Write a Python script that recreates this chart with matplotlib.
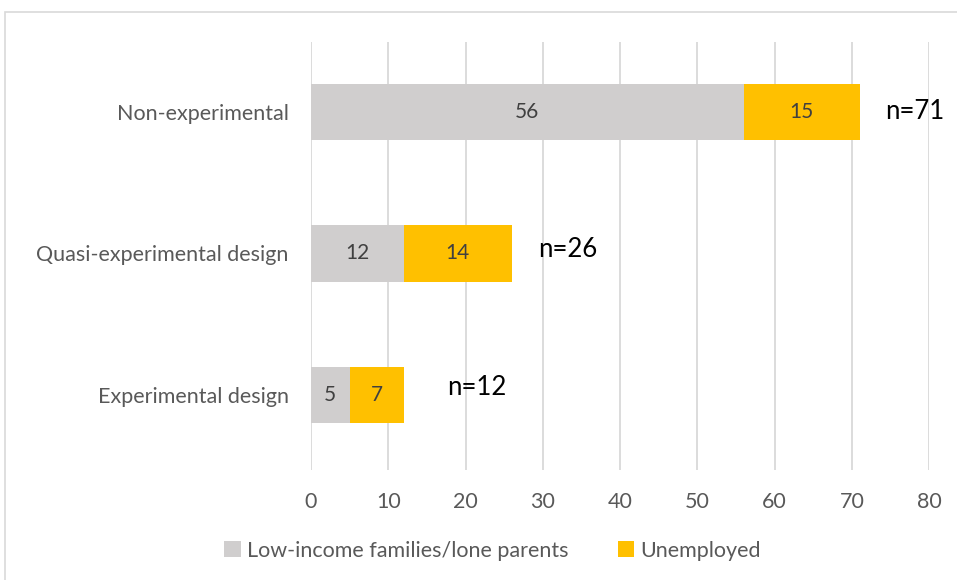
import matplotlib.pyplot as plt
from matplotlib.patches import Rectangle

categories = ["Experimental design", "Quasi-experimental design", "Non-experimental"]
low_income = [5, 12, 56]
unemployed = [7, 14, 15]
totals = [12, 26, 71]
series_names = ["Low-income families/lone parents", "Unemployed"]
x_ticks = [0, 10, 20, 30, 40, 50, 60, 70, 80]

GRAY = "#D0CECE"
GOLD = "#FFC000"
TEXT = "#595959"

plt.rcParams['font.family'] = ['Lato', 'DejaVu Sans']

fig = plt.figure(figsize=(9.57, 5.8), dpi=100)
ax = fig.add_axes([0.325, 0.19, 0.646, 0.738])

ypos = list(range(len(categories)))
ax.barh(ypos, low_income, height=0.4, color=GRAY, label=series_names[0], zorder=2)
ax.barh(ypos, unemployed, left=low_income, height=0.4, color=GOLD, label=series_names[1], zorder=2)

for i in ypos:
    ax.text(low_income[i] / 2, i, str(low_income[i]), ha="center", va="center",
            fontsize=15, color="#404040", zorder=3)
    ax.text(low_income[i] + unemployed[i] / 2, i, str(unemployed[i]), ha="center",
            va="center", fontsize=15, color="#404040", zorder=3)

# n= labels sit a little off the bar ends, like in the original
n_dx = [5.6, 3.4, 3.3]
n_dy = [0.05, 0.03, 0.0]
for i in ypos:
    ax.text(totals[i] + n_dx[i], i + n_dy[i], f"n={totals[i]}", ha="left", va="center",
            fontsize=18.5, color="black")

ax.set_xlim(0, 80)
ax.set_ylim(-0.53, 2.495)
ax.set_xticks(x_ticks)
ax.set_yticks(ypos)
ax.set_yticklabels(categories)
ax.tick_params(length=0, labelsize=15.5, labelcolor=TEXT)
ax.tick_params(axis="x", pad=16)
ax.tick_params(axis="y", pad=16)
ax.xaxis.grid(True, color="#D9D9D9", linewidth=1.3, zorder=0)
ax.set_axisbelow(True)
for s in ax.spines.values():
    s.set_visible(False)

fig.legend(loc="lower center", bbox_to_anchor=(0.515, 0.0), ncol=2, frameon=False,
           fontsize=15.5, labelcolor=TEXT, handlelength=0.75, handleheight=0.75,
           handletextpad=0.3, columnspacing=2.3)

fig.patches.append(Rectangle((5 / 957, -0.1), 1.2, 1.1 - 12 / 580, transform=fig.transFigure,
                             fill=False, edgecolor="#D9D9D9", linewidth=1.2))

fig.savefig("out.png", dpi=100)
